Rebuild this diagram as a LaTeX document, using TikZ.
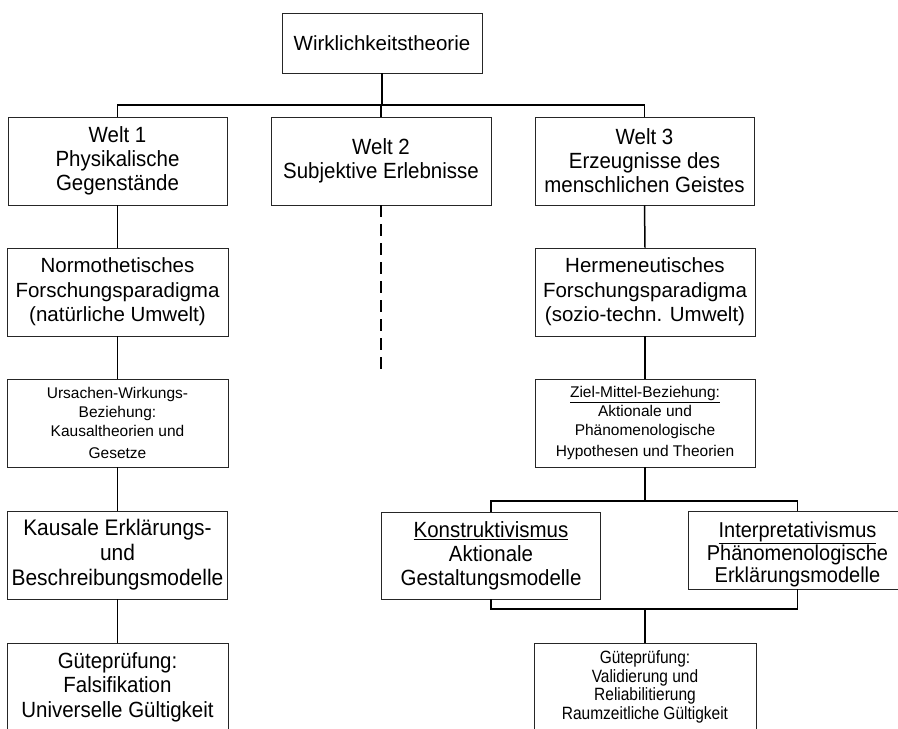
\documentclass[tikz,border=0pt]{standalone}
\usepackage{fontspec}
\setmainfont{Liberation Sans}
\newfontfamily\tallfont[FakeStretch=0.93]{Liberation Sans}
\newfontfamily\tallerfont[FakeStretch=0.87]{Liberation Sans}
\begin{document}
\begin{tikzpicture}[x=1pt,y=-1pt,
  box/.style={draw=black!85, line width=0.9pt, rectangle, inner sep=0pt, align=center, minimum width=219pt, minimum height=88pt},
  big/.style={font=\fontsize{20.5}{24.5}\selectfont},
  tallbig/.style={font=\tallfont\fontsize{22}{24}\selectfont},
  small/.style={font=\fontsize{15.5}{19}\selectfont},
  conn/.style={line width=1.5pt, draw=black},
  dashconn/.style={line width=1.5pt, draw=black, dash pattern=on 12pt off 7pt}
]
\useasboundingbox (0,0) rectangle (898,729);
\clip (0,0) rectangle (898,729);

\node[box, big, minimum width=200pt, minimum height=60pt] (top) at (382,43) {Wirklichkeitstheorie};
\node[box, tallbig] (welt1) at (117.5,161) {Welt 1\\Physikalische\\Gegenstände};
\node[box, tallbig, minimum width=220pt] (welt2) at (381,161) {Welt 2\\Subjektive Erlebnisse};
\node[box, tallbig] (welt3) at (644.5,161) {Welt 3\\Erzeugnisse des\\menschlichen Geistes};

\node[box, big, minimum width=221pt] (norm) at (117.5,292) {Normothetisches\\Forschungsparadigma\\(natürliche Umwelt)};
\node[box, big, minimum width=220pt] (herm) at (645,292) {Hermeneutisches\\Forschungsparadigma\\(sozio-techn. Umwelt)};

\node[box, small, minimum width=221pt] (urs) at (117.5,423) {Ursachen-Wirkungs-\\Beziehung:\\Kausaltheorien und\\[3pt]Gesetze};
\node[box, small, minimum width=220pt] (ziel) at (645,423) {\underline{Ziel-Mittel-Beziehung:}\\Aktionale und\\Phänomenologische\\[2pt]Hypothesen und Theorien};

\node[box, font=\tallfont\fontsize{22.5}{25}\selectfont, minimum width=220pt] (kaus) at (117.5,555) {Kausale Erklärungs-\\und\\Beschreibungsmodelle};
\node[box, tallbig, minimum height=87pt] (konst) at (491,555.5) {\underline{Konstruktivismus}\\Aktionale\\Gestaltungsmodelle};
\node[box, minimum height=78pt] (interp) at (797.5,550) {};
\node[align=center, inner sep=0pt, font=\tallfont\fontsize{21.5}{22.5}\selectfont] (interpT) at (797.5,554.5) {\underline{Interpretativismus}\\Phänomenologische\\Erklärungsmodelle};

\node[box, font=\tallfont\fontsize{22}{24.5}\selectfont, minimum width=221pt] (gueteL) at (117.5,687) {Güteprüfung:\\Falsifikation\\Universelle Gültigkeit};
\node[box, font=\tallerfont\fontsize{17.8}{18.5}\selectfont, minimum width=222pt] (gueteR) at (645,687) {Güteprüfung:\\Validierung und\\Reliabilitierung\\Raumzeitliche Gültigkeit};

\coordinate (bus) at (382,105);
\draw[conn] (top.south) -- (bus);
\draw[conn] (welt1.north) |- (bus) -| (welt3.north);
\draw[conn] (welt2.north) -- (welt2.north |- bus);

\draw[conn] (welt1.south) -- (norm.north);
\draw[conn] (norm.south) -- (urs.north);
\draw[conn] (urs.south) -- (kaus.north);
\draw[conn] (kaus.south) -- (gueteL.north);

\coordinate (dashend) at (381,374);
\draw[dashconn] (welt2.south) -- (dashend);

\draw[conn] (welt3.south) -- (herm.north);
\draw[conn] (herm.south) -- (ziel.north);
\coordinate (busA) at (645,501);
\draw[conn] (ziel.south) -- (busA);
\draw[conn] (konst.north) |- (busA) -| (interp.north);
\coordinate (busB) at (645,609);
\draw[conn] (konst.south) |- (busB) -| (interp.south);
\draw[conn] (busB) -- (gueteR.north);
\end{tikzpicture}
\end{document}
